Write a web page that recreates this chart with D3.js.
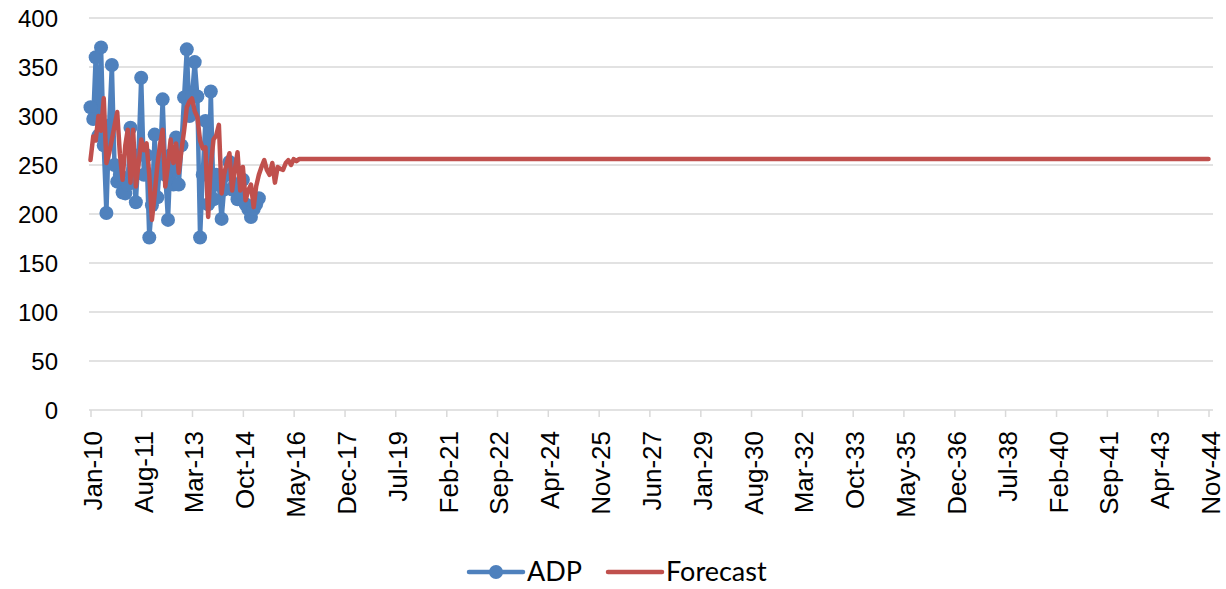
<!DOCTYPE html>
<html>
<head>
<meta charset="utf-8">
<script src="https://cdn.jsdelivr.net/npm/d3@7"></script>
<style>
  html, body { margin: 0; padding: 0; background: #ffffff; }
  svg { display: block; }
</style>
</head>
<body>
<svg id="chart" width="1226" height="589"></svg>
<script>
// ---------------- data ----------------
const startMonth = "2010-01";
// ADP, monthly from Jan-10
const adpValues = [
  309, 297, 360, 280, 370, 270, 201, 290, 352, 250,
  233, 240, 222, 221, 230, 288, 245, 212, 260, 339,
  240, 260, 176, 209, 281, 217, 250, 317, 240, 194,
  260, 230, 278, 230, 270, 319, 368, 300, 320, 355,
  320, 176, 240, 295, 210, 325, 215, 240, 230, 195,
  225, 240, 253, 225, 230, 215, 222, 235, 210, 205,
  197, 205, 210, 216
];
// Forecast, monthly from Jan-10 until it settles
const forecastValues = [
  255, 279, 275, 300, 285, 318, 252, 262, 276, 290,
  304, 262, 235, 270, 286, 232, 286, 228, 250, 276,
  265, 272, 240, 194, 220, 250, 270, 286, 228, 250,
  276, 252, 272, 242, 265, 285, 309, 315, 318, 305,
  299, 275, 267, 268, 197, 250, 276, 280, 291, 221,
  240, 252, 262, 224, 245, 263, 224, 248, 214, 224,
  230, 207, 228, 240, 248, 255, 245, 240, 252, 232,
  248, 246, 245, 252, 255, 250, 256, 254, 256
];
// final forecast point (flat level carried to the end of the axis)
const forecastEndMonth = "2044-11";
const forecastEndValue = 256;

const xTickLabels = ["Jan-10","Aug-11","Mar-13","Oct-14","May-16","Dec-17","Jul-19",
  "Feb-21","Sep-22","Apr-24","Nov-25","Jun-27","Jan-29","Aug-30","Mar-32","Oct-33",
  "May-35","Dec-36","Jul-38","Feb-40","Sep-41","Apr-43","Nov-44"];
const yTicks = [0, 50, 100, 150, 200, 250, 300, 350, 400];
const seriesNames = ["ADP", "Forecast"];

// ---------------- setup ----------------
const parseYM = d3.timeParse("%Y-%m");
const parseTick = d3.timeParse("%b-%y");
const t0 = parseYM(startMonth);
const tEnd = parseYM(forecastEndMonth);

const adp = adpValues.map((v, i) => ({ date: d3.timeMonth.offset(t0, i), value: v }));
const forecast = forecastValues.map((v, i) => ({ date: d3.timeMonth.offset(t0, i), value: v }));
forecast.push({ date: tEnd, value: forecastEndValue });

const blue = "#4f81bd", red = "#c0504d", grid = "#d9d9d9";

const svg = d3.select("#chart");
const x = d3.scaleTime().domain([t0, tEnd]).range([90.5, 1208.5]);
const y = d3.scaleLinear().domain([0, 400]).range([410, 18]);
const gridLeft = 89, gridRight = 1213;

// grid lines
svg.append("g").selectAll("line").data(yTicks).join("line")
  .attr("x1", gridLeft).attr("x2", gridRight)
  .attr("y1", d => y(d)).attr("y2", d => y(d))
  .attr("stroke", grid).attr("stroke-width", 1.5);

// y labels
svg.append("g").selectAll("text").data(yTicks).join("text")
  .attr("x", 58).attr("y", d => y(d))
  .attr("text-anchor", "end").attr("dominant-baseline", "central")
  .attr("font-family", "Liberation Sans, Arial, sans-serif")
  .attr("font-size", 24).attr("fill", "#000")
  .text(d => d);

// x axis with ticks
const tickDates = xTickLabels.map(s => parseTick(s));
const xAxis = d3.axisBottom(x).tickValues(tickDates).tickSize(7).tickFormat((d, i) => xTickLabels[i]);
const gx = svg.append("g").attr("transform", "translate(0,410)").call(xAxis);
gx.select(".domain").remove();
gx.selectAll(".tick line").attr("stroke", grid).attr("stroke-width", 1.5);
gx.selectAll(".tick text")
  .attr("font-family", "Liberation Sans, Arial, sans-serif")
  .attr("font-size", 26).attr("fill", "#000")
  .attr("text-anchor", "end")
  .attr("dominant-baseline", "central")
  .attr("transform", "rotate(-90)")
  .attr("x", -21).attr("y", 2).attr("dy", null);

// lines
const line = d3.line().x(d => x(d.date)).y(d => y(d.value));
svg.append("path").datum(adp)
  .attr("fill", "none").attr("stroke", blue).attr("stroke-width", 4.5)
  .attr("stroke-linejoin", "round").attr("d", line);
svg.append("g").selectAll("circle").data(adp).join("circle")
  .attr("cx", d => x(d.date)).attr("cy", d => y(d.value)).attr("r", 7)
  .attr("fill", blue);
svg.append("path").datum(forecast)
  .attr("fill", "none").attr("stroke", red).attr("stroke-width", 4.5)
  .attr("stroke-linejoin", "round").attr("stroke-linecap", "round").attr("d", line);

// legend
const ly = 572;
const lg = svg.append("g").attr("font-family", "Lato, Calibri, sans-serif").attr("font-size", 27);
lg.append("line").attr("x1", 469).attr("x2", 523).attr("y1", ly).attr("y2", ly)
  .attr("stroke", blue).attr("stroke-width", 4.5).attr("stroke-linecap", "round");
lg.append("circle").attr("cx", 496).attr("cy", ly).attr("r", 7).attr("fill", blue);
lg.append("text").attr("x", 527).attr("y", ly + 9).text(seriesNames[0]);
lg.append("line").attr("x1", 608).attr("x2", 662).attr("y1", ly).attr("y2", ly)
  .attr("stroke", red).attr("stroke-width", 4.5).attr("stroke-linecap", "round");
lg.append("text").attr("x", 666).attr("y", ly + 9).text(seriesNames[1]);
</script>
</body>
</html>
